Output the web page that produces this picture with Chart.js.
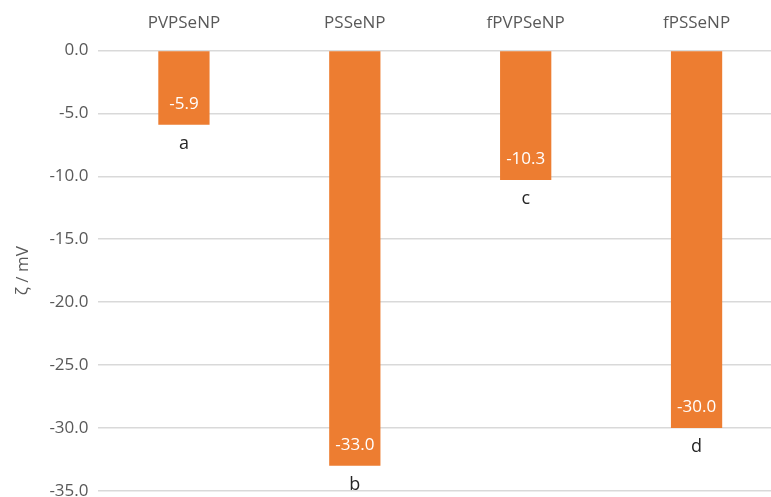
<!DOCTYPE html>
<html lang="en">
<head>
    <meta charset="UTF-8">
    <title>Zeta potential</title>
    <style>
        html, body {
            margin: 0;
            padding: 0;
            background: #fff;
            overflow: hidden;
        }
        .wrap {
            position: relative;
            width: 782px;
            height: 520px;
        }
    </style>
</head>
<body>
    <div class="wrap">
        <canvas id="zetaChart"></canvas>
    </div>
    <script src="https://cdn.jsdelivr.net/npm/chart.js"></script>
    <script>
        const categories = ['PVPSeNP', 'PSSeNP', 'fPVPSeNP', 'fPSSeNP'];
        const zetaValues = [-5.9, -33.0, -10.3, -30.0];
        const groupLetters = ['a', 'b', 'c', 'd'];
        const yTicks = [0, -5, -10, -15, -20, -25, -30, -35];

        const FONT = "'Open Sans', 'Noto Sans', sans-serif";

        // white value inside bar end + letter below the bar
        const barLabels = {
            id: 'barLabels',
            afterDatasetsDraw(chart) {
                const ctx = chart.ctx;
                const meta = chart.getDatasetMeta(0);
                ctx.save();
                ctx.textAlign = 'center';
                ctx.textBaseline = 'middle';
                meta.data.forEach((bar, i) => {
                    ctx.fillStyle = '#ffffff';
                    ctx.font = '17px ' + FONT;
                    ctx.fillText(zetaValues[i].toFixed(1), bar.x, bar.y - 21);
                    ctx.fillStyle = '#262626';
                    ctx.font = '18px ' + FONT;
                    ctx.fillText(groupLetters[i], bar.x, bar.y + 19);
                });
                ctx.restore();
            }
        };

        new Chart(document.getElementById('zetaChart'), {
            type: 'bar',
            data: {
                labels: categories,
                datasets: [{
                    data: zetaValues,
                    backgroundColor: '#ED7D31',
                    borderWidth: 0,
                    barPercentage: 0.3,
                    categoryPercentage: 1.0
                }]
            },
            options: {
                responsive: true,
                maintainAspectRatio: false,
                animation: false,
                layout: { padding: { top: -4, bottom: 29, left: 13, right: 0 } },
                plugins: {
                    legend: { display: false },
                    tooltip: { enabled: false }
                },
                scales: {
                    x: {
                        position: 'top',
                        grid: { display: false, drawTicks: false },
                        border: { display: false },
                        ticks: {
                            color: '#595959',
                            font: { family: FONT, size: 17 },
                            padding: 17
                        }
                    },
                    y: {
                        min: -35,
                        max: 0,
                        afterBuildTicks(scale) {
                            scale.ticks = yTicks.map(v => ({ value: v }));
                        },
                        grid: { color: '#d9d9d9', lineWidth: 1.5, drawTicks: false },
                        border: { display: false },
                        ticks: {
                            color: '#595959',
                            font: { family: FONT, size: 17 },
                            padding: 10,
                            callback: v => v.toFixed(1)
                        },
                        title: {
                            display: true,
                            text: 'ζ / mV',
                            color: '#595959',
                            font: { family: FONT, size: 17 },
                            padding: { top: 0, bottom: 6 }
                        }
                    }
                }
            },
            plugins: [barLabels]
        });
    </script>
</body>
</html>
